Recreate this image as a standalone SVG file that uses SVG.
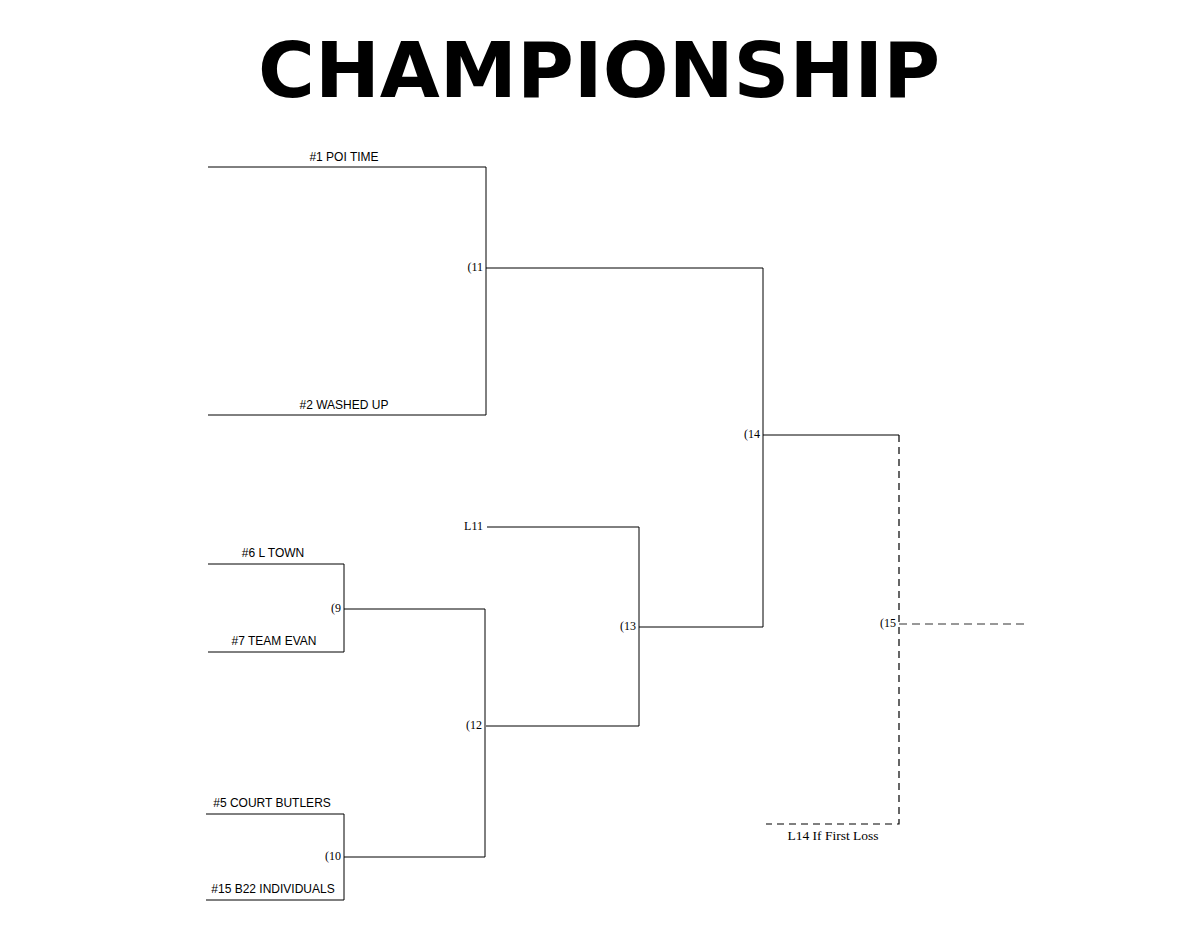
<svg xmlns="http://www.w3.org/2000/svg" width="1200" height="937" viewBox="0 0 1200 937">
<style>
.l{fill:none;stroke:#000;stroke-width:1}
.d{fill:none;stroke:#000;stroke-width:1.2;stroke-dasharray:7,5}
.g{fill:none;stroke:#777;stroke-width:1.5;stroke-dasharray:8,5}
.t{font-family:"Liberation Sans",Arial,sans-serif;font-size:12px;text-anchor:middle}
.s{font-family:"Liberation Serif","Times New Roman",serif;font-size:12px;text-anchor:end}
.c{font-family:"Liberation Serif","Times New Roman",serif;font-size:13.5px;text-anchor:middle}
</style>
<rect width="1200" height="937" fill="#fff"/>
<text x="258" y="97" font-family="DejaVu Sans, sans-serif" font-weight="bold" font-size="76" textLength="682" lengthAdjust="spacingAndGlyphs">CHAMPIONSHIP</text>
<g id="connectors">
<path class="l" d="M208,167H486V415H208M486,268H763V627H639M763,435H899"/>
<path class="l" d="M487,527H639V726H486M208,564H344V652H208M344,609H485V857H344M206,814H344V900H206"/>
<path class="d" d="M899,435V824H766"/>
<path class="g" d="M899,624H1027"/>
</g>
<g id="teams">
<text class="t" x="344" y="161">#1 POI TIME</text>
<text class="t" x="344" y="409">#2 WASHED UP</text>
<text class="t" x="273" y="557">#6 L TOWN</text>
<text class="t" x="274" y="645">#7 TEAM EVAN</text>
<text class="t" x="272" y="807">#5 COURT BUTLERS</text>
<text class="t" x="273" y="893">#15 B22 INDIVIDUALS</text>
</g>
<g id="m11"><text class="s" x="483" y="271">(11</text></g>
<g id="m14"><text class="s" x="760" y="438">(14</text></g>
<g id="m13"><text class="s" x="636" y="630">(13</text></g>
<g id="m9"><text class="s" x="341" y="612">(9</text></g>
<g id="m12"><text class="s" x="482" y="729">(12</text></g>
<g id="m10"><text class="s" x="341" y="860">(10</text></g>
<g id="m15"><text class="s" x="896" y="627">(15</text></g>
<g id="l11"><text class="s" x="483" y="530">L11</text></g>
<g id="l14"><text class="c" x="833" y="840">L14 If First Loss</text></g>
</svg>
